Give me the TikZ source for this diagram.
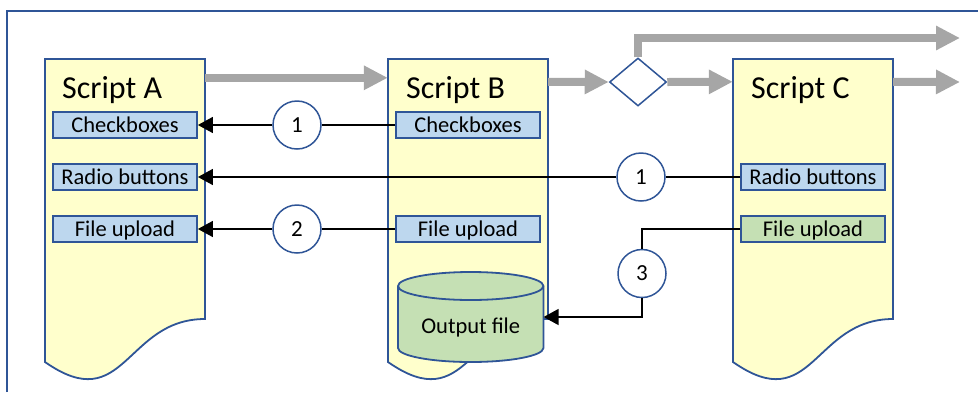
\documentclass[tikz,border=0pt]{standalone}
\usepackage{fontspec}
\setmainfont{Carlito}
\usetikzlibrary{arrows.meta,shapes.geometric}
\definecolor{bord}{HTML}{2F5597}
\definecolor{docyellow}{HTML}{FFFFCC}
\definecolor{fieldblue}{HTML}{BDD7EE}
\definecolor{fieldgreen}{HTML}{C5E0B4}
\definecolor{flowgrey}{HTML}{A6A6A6}
\begin{document}
\begin{tikzpicture}[x=1pt,y=-1pt,
  doc/.style={draw=bord, line width=1.8pt, fill=docyellow, line join=miter},
  docarea/.style={inner sep=0pt, minimum width=160pt, minimum height=303pt},
  field/.style={draw=bord, line width=1.8pt, fill=fieldblue, minimum width=144pt, minimum height=26pt,
    inner sep=0pt, text height=16pt, text depth=2pt, font=\fontsize{22.5}{26}\selectfont},
  greenfield/.style={field, fill=fieldgreen},
  titletext/.style={anchor=base west, inner sep=0pt, font=\fontsize{32}{38}\selectfont},
  circ/.style={circle, draw=bord, line width=1.5pt, fill=white, minimum size=48pt, inner sep=0pt,
    font=\fontsize{23}{26}\selectfont},
  flow/.style={draw=flowgrey, line width=8pt, line join=miter, -{Triangle[length=24pt,width=23pt]}},
  conn/.style={draw=black, line width=1.5pt},
  arr/.style={-{Triangle[length=15pt,width=16pt]}},
  cyl/.style={draw=bord, line width=1.8pt, fill=fieldgreen}
]
\useasboundingbox (0,0) rectangle (978,392);

% frame
\draw[bord, line width=1.5pt] (7,392) -- (7,11) -- (978,11);

% document areas (names)
\node[docarea] (docA) at (125,210.5) {};
\node[docarea] (docB) at (468,210.5) {};
\node[docarea] (docC) at (813,210.5) {};

% document shapes
\path[doc] (45,59) -- (205,59) -- (205,319) .. controls (125,319) and (125,418) .. (45,362) -- cycle;
\path[doc] (388,59) -- (548,59) -- (548,319) .. controls (468,319) and (468,418) .. (388,362) -- cycle;
\path[doc] (733,59) -- (893,59) -- (893,319) .. controls (813,319) and (813,418) .. (733,362) -- cycle;

% titles
\node[titletext] (tA) at (62,98) {Script A};
\node[titletext] (tB) at (406,98) {Script B};
\node[titletext] (tC) at (751,98) {Script C};

% decision diamond
\node[diamond, draw=bord, line width=1.5pt, fill=white, minimum width=57pt, minimum height=48pt, inner sep=0pt] (dia) at (638,82) {};

% grey flow arrows
\coordinate (outC) at (960,82);
\coordinate (outTop) at (960,38);
\draw[flow] ([yshift=-19pt]docA.north east) -- ([yshift=-19pt]docB.north west);
\draw[flow] ([yshift=-23pt]docB.north east) -- (dia.west);
\draw[flow] (dia.east) -- ([yshift=-23pt]docC.north west);
\draw[flow] ([yshift=-23pt]docC.north east) -- (outC);
\draw[flow] (dia.north) |- (outTop);

% fields
\node[field] (aCB) at (125,125) {Checkboxes};
\node[field] (aRB) at (125,177) {Radio buttons};
\node[field] (aFU) at (125,229) {File upload};
\node[field] (bCB) at (468,125) {Checkboxes};
\node[field] (bFU) at (468,229) {File upload};
\node[field] (cRB) at (813,177) {Radio buttons};
\node[greenfield] (cFU) at (813,229) {File upload};

% cylinder
\path[cyl] (398,286) -- (398,348) arc[start angle=180, end angle=0, x radius=72.7, y radius=14]
  -- (543.4,286) arc[start angle=0, end angle=-180, x radius=72.7, y radius=14] -- cycle;
\draw[bord, line width=1.8pt] (398,286) arc[start angle=180, end angle=0, x radius=72.7, y radius=14];
\node[inner sep=0pt, minimum width=145.4pt, minimum height=90pt] (outf) at (470.7,317) {};
\node[inner sep=0pt, text height=16pt, text depth=2pt, font=\fontsize{22.5}{26}\selectfont] (outlabel) at (470.7,326) {Output file};

% numbered circles
\node[circ] (n1a) at (297,125) {1};
\node[circ] (n1b) at (641,177) {1};
\node[circ] (n2) at (297,229) {2};
\node[circ] (n3) at (642,273.5) {3};

% connectors
\draw[conn] (bCB) -- (n1a);
\draw[conn, arr] (n1a) -- (aCB);
\draw[conn] (cRB) -- (n1b);
\draw[conn, arr] (n1b) -- (aRB);
\draw[conn] (bFU) -- (n2);
\draw[conn, arr] (n2) -- (aFU);
\draw[conn] (cFU) -| (n3);
\draw[conn, arr] (n3) |- (outf);
\end{tikzpicture}
\end{document}
